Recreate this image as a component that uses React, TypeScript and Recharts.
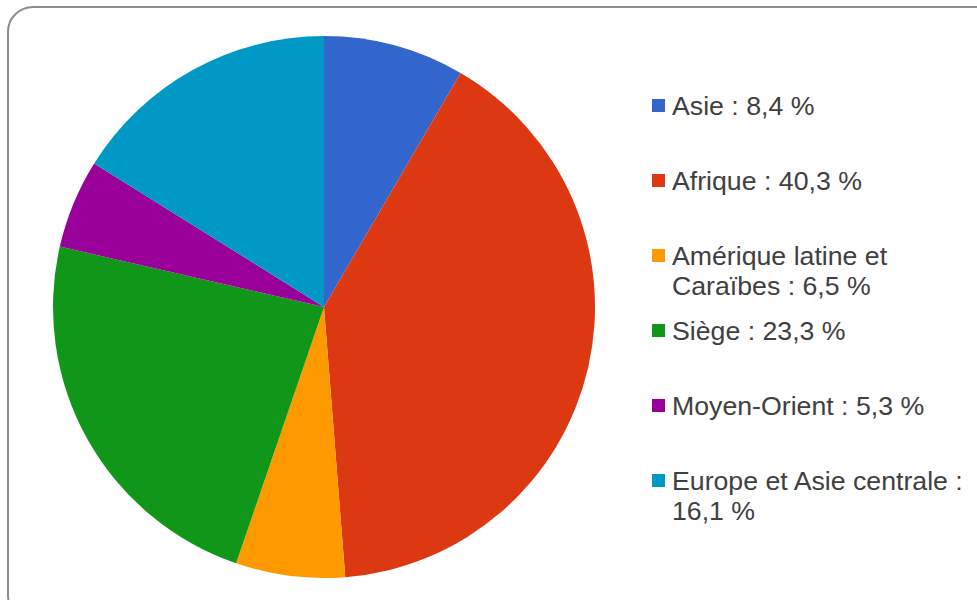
import React from "react";
import { PieChart, Pie, Cell, Legend } from "recharts";

const regions = [
  "Asie",
  "Afrique",
  "Amérique latine et Caraïbes",
  "Siège",
  "Moyen-Orient",
  "Europe et Asie centrale",
];
const shares = [8.4, 40.3, 6.5, 23.3, 5.3, 16.1];
const labels = ["8,4 %", "40,3 %", "6,5 %", "23,3 %", "5,3 %", "16,1 %"];
const colors = ["#3366CC", "#DC3912", "#FF9900", "#109618", "#990099", "#0099C6"];

const data = regions.map((name, i) => ({ name, value: shares[i] }));

const FONT = '"Liberation Sans", Arial, sans-serif';

function renderLegend() {
  return (
    <div style={{ position: "relative", width: 977, height: 600 }}>
      {regions.map((name, i) => (
        <div key={name} style={{ position: "absolute", left: 652, top: 91 + 75 * i }}>
          <div
            style={{
              position: "absolute",
              left: 0,
              top: 8,
              width: 13,
              height: 13,
              background: colors[i],
            }}
          />
          <div
            style={{
              position: "absolute",
              left: 20,
              top: 0,
              width: 300,
              fontFamily: FONT,
              fontSize: 26.7,
              lineHeight: "30px",
              color: "#404040",
              textAlign: "left",
            }}
          >
            {`${name} : ${labels[i]}`}
          </div>
        </div>
      ))}
    </div>
  );
}

export default function App() {
  return (
    <div
      style={{
        position: "absolute",
        left: 0,
        top: 0,
        width: 977,
        height: 600,
        overflow: "hidden",
        background: "#fff",
      }}
    >
      <div
        style={{
          position: "absolute",
          left: 7,
          top: 6,
          width: 1010,
          height: 615,
          border: "2px solid #8c8c8c",
          borderRadius: 26,
          boxSizing: "border-box",
        }}
      />
      <div style={{ position: "absolute", left: 0, top: 0 }}>
        <PieChart width={977} height={600} margin={{ top: 0, right: 0, bottom: 0, left: 0 }}>
          <Pie
            data={data}
            dataKey="value"
            nameKey="name"
            cx={324}
            cy={307}
            outerRadius={271}
            startAngle={90}
            endAngle={-270}
            stroke="none"
            isAnimationActive={false}
          >
            {data.map((d, i) => (
              <Cell key={d.name} fill={colors[i]} />
            ))}
          </Pie>
          <Legend
            content={renderLegend}
            wrapperStyle={{ position: "absolute", left: 0, top: 0, width: 977, height: 600 }}
          />
        </PieChart>
      </div>
    </div>
  );
}
